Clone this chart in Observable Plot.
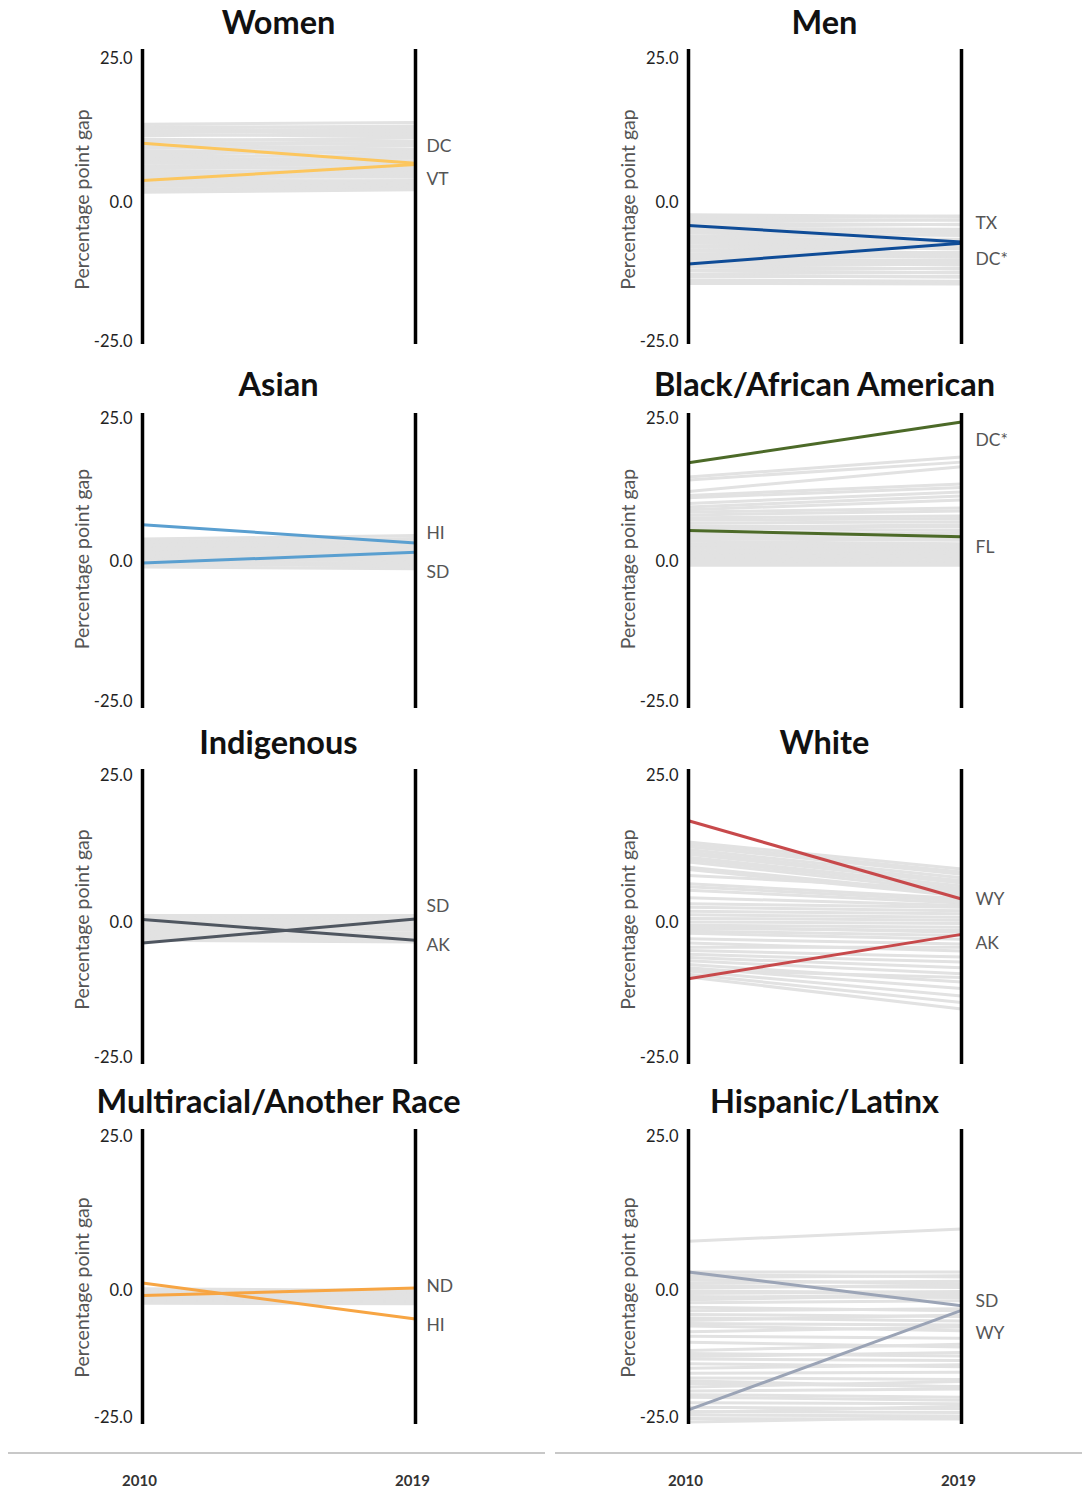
<!DOCTYPE html>
<html><head><meta charset="utf-8">
<script src="https://cdn.jsdelivr.net/npm/d3@7"></script>
<script src="https://cdn.jsdelivr.net/npm/@observablehq/plot@0.6"></script>
<style>
body{margin:0;background:#fff;font-family:Lato,"Open Sans",sans-serif;}
#root{position:relative;width:1082px;height:1492px;overflow:hidden;background:#fff;}
.title{position:absolute;font-family:Lato,sans-serif;font-weight:700;font-size:32.5px;color:#111;text-align:center;white-space:nowrap;transform:translate(-50%,-50%);line-height:1;}
.panel{position:absolute;}
.baseline{position:absolute;height:2px;background:#c8c8c8;}
.panel svg [aria-label="y-axis tick label"] text{font-size:16.5px;fill:#222;}
.xaxis svg [aria-label="x-axis tick label"] text{font-size:15px;font-weight:700;fill:#333;}
</style></head><body><div id="root"></div>
<script>
// ---------- DATA ----------
const years = [2010, 2019];
const tickValues = [-25, 0, 25];
const yLabel = "Percentage point gap";
const panelNames = ["Women", "Men", "Asian", "Black/African American", "Indigenous", "White", "Multiracial/Another Race", "Hispanic/Latinx"];
const highlightColors = ["#fcc65e", "#0f4c97", "#5a9fd0", "#4c6a28", "#4f5660", "#c7494b", "#f7a543", "#9ba4b6"];

// gray lines (all states), 2010 and 2019 values
const women2010 = [13.6, 13.2, 12.9, 12.5, 12.4, 11.8, 11.6, 11.0, 10.7, 10.5, 9.9, 9.6, 9.4, 8.8, 8.5, 8.3, 7.9, 7.6, 7.4, 7.1, 6.8, 6.4, 6.2, 5.9, 5.5, 5.3, 4.9, 4.6, 4.2, 3.9, 3.6, 3.3, 3.1, 2.8, 2.4, 2.0, 1.8, 12.1, 9.0, 5.0];
const women2019 = [13.9, 13.0, 13.3, 12.2, 12.8, 11.5, 12.0, 10.6, 11.2, 10.1, 10.3, 9.2, 9.8, 8.6, 8.9, 7.8, 8.2, 7.2, 7.7, 6.9, 7.0, 6.6, 5.8, 6.1, 5.2, 5.6, 4.8, 4.4, 4.5, 3.7, 3.8, 3.4, 3.0, 2.9, 2.5, 2.3, 2.2, 12.5, 8.7, 5.1];
const men2010 = [-2.2, -2.7, -2.9, -3.4, -3.7, -4.3, -4.6, -4.8, -5.4, -5.5, -6.1, -6.4, -6.6, -7.1, -7.3, -7.8, -8.0, -8.5, -8.7, -9.2, -9.4, -9.9, -10.1, -10.6, -10.8, -11.4, -11.5, -12.1, -12.2, -12.8, -13.1, -13.3, -13.9, -14.0, -14.5, -5.0, -7.9, -10.9, -6.9, -9.7];
const men2019 = [-2.5, -2.4, -3.2, -3.1, -4.0, -3.9, -4.8, -5.1, -5.0, -5.9, -5.7, -6.6, -6.9, -6.8, -7.6, -7.5, -8.3, -8.2, -9.0, -8.9, -9.8, -9.6, -10.4, -10.3, -11.2, -11.0, -11.9, -11.8, -12.6, -12.5, -13.4, -13.2, -14.1, -14.3, -14.6, -5.3, -8.1, -10.7, -7.2, -9.4];
const asian2010 = [4.0, 3.6, 3.5, 3.1, 2.9, 2.6, 2.5, 2.1, 2.0, 1.7, 1.5, 1.2, 1.1, 0.8, 0.5, 0.4, 0.1, -0.2, -0.3, -0.6, -0.9, 3.0, 1.6, 0.2, 2.3];
const asian2019 = [4.6, 4.1, 3.3, 3.6, 2.4, 3.0, 2.1, 2.6, 1.5, 1.9, 1.0, 1.4, 0.6, 0.9, 0.2, 0.5, -0.3, -0.1, -0.7, -0.5, -1.2, 2.8, 1.2, -0.9, 2.2];
const black2010 = [14.8, 14.3, 12.3, 11.6, 11.2, 9.6, 9.1, 8.7, 8.2, 7.7, 7.3, 6.8, 6.3, 5.9, 5.2, 4.8, 4.4, 4.0, 3.6, 3.2, 2.8, 2.4, 2.0, 1.6, 1.2, 0.8, 0.4, 0.0, -0.3, -0.6, 10.2, 6.0, 3.0, 1.0];
const black2019 = [18.3, 17.4, 16.6, 13.6, 13.0, 11.5, 10.8, 9.4, 8.9, 8.0, 7.6, 7.0, 6.1, 5.5, 5.0, 4.7, 4.1, 3.8, 3.2, 3.0, 2.5, 2.1, 1.7, 1.3, 0.9, 0.6, 0.2, -0.2, -0.4, -0.6, 12.2, 6.5, 2.7, 1.1];
const indigenous2010 = [1.2, 0.8, 0.6, 0.2, 0.0, -0.4, -0.6, -1.0, -1.2, -1.6, -1.8, -2.2, -2.4, -2.8, -3.0, -3.3, 0.4, -1.1, -2.0];
const indigenous2019 = [1.2, 0.9, 0.4, 0.5, -0.2, -0.1, -0.8, -0.6, -1.4, -1.3, -2.0, -1.9, -2.6, -2.5, -3.2, -3.6, 0.1, -0.9, -2.3];
const white2010 = [13.7, 13.3, 12.9, 12.4, 12.0, 11.6, 11.1, 10.7, 10.3, 9.4, 9.0, 6.6, 6.1, 5.5, 3.2, 2.6, 1.9, 1.3, 0.7, 0.1, -0.5, -1.1, -1.6, -2.0, -3.0, -4.6, -5.2, -5.9, -6.5, -7.1, -7.8, -8.4, -9.0, -9.6, -10.1, 8.0, 4.2, -0.8, -3.8, -8.8];
const white2019 = [9.1, 8.6, 8.2, 7.6, 7.1, 6.7, 6.2, 5.8, 5.3, 4.9, 4.5, 4.1, 3.7, 3.3, 2.6, 2.0, 1.5, 0.9, 0.4, -0.2, -0.9, -1.5, -2.4, -3.1, -4.0, -4.6, -6.4, -7.3, -8.4, -9.5, -11.0, -12.2, -13.6, -14.8, -16.0, 5.6, 2.9, -1.8, -5.3, -10.2];
const multi2010 = [0.3, 0.0, -0.3, -0.5, -0.8, -1.0, -1.3, -1.6, -1.8, -2.1, -2.3, -2.5, -0.6, -1.4];
const multi2019 = [0.0, -0.2, -0.5, -0.7, -1.0, -1.1, -1.5, -1.7, -2.0, -2.2, -2.4, -2.6, -0.9, -1.3];
const hispanic2010 = [8.0, 3.0, 2.6, 2.1, 1.7, 1.2, 0.8, 0.4, -0.1, -0.6, -1.2, -1.8, -2.4, -3.3, -4.0, -4.7, -5.4, -5.9, -7.0, -8.1, -9.0, -10.2, -11.8, -12.4, -13.5, -14.4, -15.3, -16.3, -17.2, -18.3, -19.0, -19.8, -20.5, -21.0, -22.1, -23.0, -23.8, -24.5, -25.2, -25.9, -1.5, -6.5, -13.0, -17.8, -24.0];
const hispanic2019 = [10.0, 3.0, 2.2, 2.4, 1.1, 1.5, 0.5, 0.9, -0.4, -0.2, -1.4, -0.9, -2.0, -4.0, -3.6, -5.1, -6.0, -4.8, -7.9, -7.2, -9.4, -11.1, -10.6, -12.9, -13.8, -15.0, -14.6, -16.1, -17.5, -18.9, -17.9, -19.4, -21.0, -21.6, -22.3, -23.3, -24.0, -24.7, -25.3, -24.9, -0.7, -6.8, -12.2, -19.0, -22.8];

// highlighted states
const highlightStates = [["DC", "VT"], ["TX", "DC*"], ["HI", "SD"], ["DC*", "FL"], ["SD", "AK"], ["WY", "AK"], ["ND", "HI"], ["SD", "WY"]];
const highlight2010 = [[10.3, 3.8], [-4.1, -11.0], [6.5, -0.2], [17.3, 5.5], [-3.8, 0.5], [17.3, -10.4], [-1.0, 1.2], [3.0, -23.5]];
const highlight2019 = [[6.8, 6.6], [-7.1, -7.3], [3.3, 1.7], [24.4, 4.4], [0.6, -3.3], [4.0, -2.2], [0.4, -5.6], [-3.0, -3.9]];

const gray2010 = [women2010, men2010, asian2010, black2010, indigenous2010, white2010, multi2010, hispanic2010];
const gray2019 = [women2019, men2019, asian2019, black2019, indigenous2019, white2019, multi2019, hispanic2019];

// ---------- LAYOUT (styling only) ----------
const rowTop = [49, 413, 769, 1129];
const panelH = 295;
// page pixel rows of the 25 / 0 / -25 ticks in each row of panels
const rowTickPage = [[58, 202, 341.5], [418, 561.5, 701.5], [775, 922, 1057], [1136, 1290, 1417]];
const colLeft = [0, 546];
const labelDy = [[-17, 15], [-19, 16], [-10, 20], [18, 11], [-13, 5], [0, 9], [-2, 6], [-4, 23]];
const labelDx = [11, 14];
const titleY = [22, 384, 742, 1101];

const root = document.getElementById("root");

function yScaleFor(row) {
  const [p25, p0, pm25] = rowTickPage[row].map(p => p - rowTop[row]);
  const up = p0 - p25, down = pm25 - p0;
  return {
    type: "linear",
    transform: v => v >= 0 ? v * up / 25 : v * down / 25,
    domain: [-down, up],
    range: [p0 + down, p0 - up]
  };
}

panelNames.forEach((name, i) => {
  const row = Math.floor(i / 2), col = i % 2;
  const grayData = gray2010[i].map((v, j) => ({a: v, b: gray2019[i][j], x1: years[0], x2: years[1]}));
  const hiData = highlightStates[i].map((s, j) => ({state: s, a: highlight2010[i][j], b: highlight2019[i][j], x1: years[0], x2: years[1], dy: labelDy[i][j]}));
  const plot = Plot.plot({
    width: col === 0 ? 541 : 536,
    height: panelH,
    marginLeft: 142,
    marginRight: col === 0 ? 126 : 121,
    marginTop: 0,
    marginBottom: 0,
    style: {fontFamily: "Lato, sans-serif", fontSize: "16px", color: "#555", background: "transparent", overflow: "visible"},
    x: {domain: years, axis: null},
    y: yScaleFor(row),
    marks: [
      Plot.link(grayData, {x1: "x1", x2: "x2", y1: "a", y2: "b", stroke: "#e2e2e2", strokeWidth: 3}),
      Plot.link(hiData, {x1: "x1", x2: "x2", y1: "a", y2: "b", stroke: highlightColors[i], strokeWidth: 3}),
      Plot.ruleX(years, {stroke: "#000", strokeWidth: 3.5}),
      Plot.axisY(tickValues, {tickSize: 0, tickPadding: 10, tickFormat: d => d.toFixed(1), label: null}),
      Plot.text([yLabel], {frameAnchor: "left", y: () => 0, text: d => d, rotate: -90, dx: -60, dy: -3, fill: "#555", fontSize: 19.5, textAnchor: "middle"}),
      ...hiData.map(d => Plot.text([d], {x: "x2", y: "b", text: "state", textAnchor: "start", dx: labelDx[col], dy: d.dy, fill: "#555", fontSize: 17.5}))
    ]
  });
  const div = document.createElement("div");
  div.className = "panel";
  div.style.left = colLeft[col] + "px";
  div.style.top = rowTop[row] + "px";
  div.appendChild(plot);
  root.appendChild(div);

  const t = document.createElement("div");
  t.className = "title";
  t.textContent = name;
  t.style.left = (colLeft[col] + 142 + 136.5) + "px";
  t.style.top = titleY[row] + "px";
  root.appendChild(t);
});

// bottom x axes
[0, 1].forEach(col => {
  const line = document.createElement("div");
  line.className = "baseline";
  line.style.top = "1452px";
  line.style.left = (col === 0 ? 8 : 555) + "px";
  line.style.width = (col === 0 ? 537 : 527) + "px";
  root.appendChild(line);

  const ax = Plot.plot({
    width: col === 0 ? 541 : 536,
    height: 40,
    marginLeft: 142,
    marginRight: col === 0 ? 126 : 121,
    marginTop: 30,
    marginBottom: 10,
    style: {fontFamily: "Lato, sans-serif", fontSize: "15px", background: "transparent", overflow: "visible"},
    x: {domain: years},
    marks: [Plot.axisX(years, {tickFormat: d => String(d), tickSize: 0, tickPadding: 6, anchor: "top"})]
  });
  const div = document.createElement("div");
  div.className = "panel xaxis";
  div.style.left = (colLeft[col] - 3) + "px";
  div.style.top = "1461px";
  div.appendChild(ax);
  root.appendChild(div);
});
</script></body></html>
